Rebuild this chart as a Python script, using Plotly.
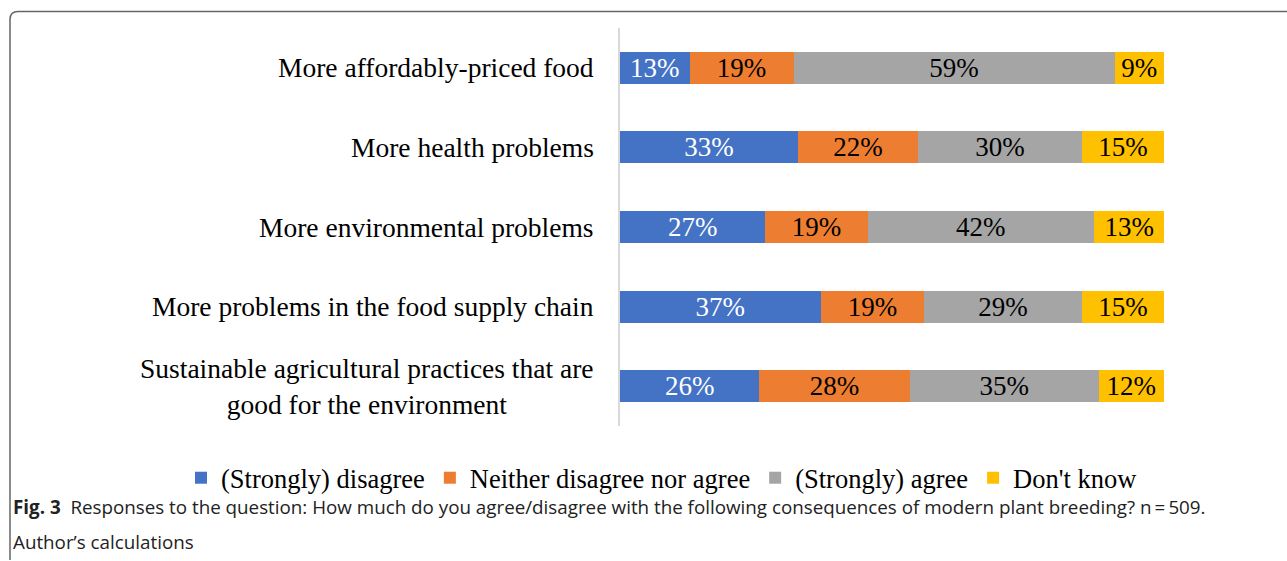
import plotly.graph_objects as go

categories = [
    "More affordably-priced food",
    "More health problems",
    "More environmental problems",
    "More problems in the food supply chain",
    "Sustainable agricultural practices that are<br>good for the environment",
]
series_names = ["(Strongly) disagree", "Neither disagree nor agree", "(Strongly) agree", "Don't know"]
disagree = [12.8, 32.7, 26.7, 36.9, 25.6]
neither = [19.1, 22.1, 18.8, 19.0, 27.7]
agree = [59.0, 30.1, 41.6, 29.0, 34.7]
dont_know = [9.1, 15.1, 13.0, 15.1, 12.0]
caption_bold = "Fig. 3"
caption_text = ("Responses to the question: How much do you agree/disagree with the following "
                "consequences of modern plant breeding? n\u2009=\u2009509.")
caption_line2 = "Author\u2019s calculations"

colors = ["#4472C4", "#ED7D31", "#A5A5A5", "#FFC000"]
text_colors = ["white", "black", "black", "black"]
SERIF = "Liberation Serif, Times New Roman, serif"
SANS = "Open Sans, Noto Sans, sans-serif"

W, H = 1287, 561
L, R, T, B = 620, 123, 28, 135
pw, ph = W - L - R, H - T - B


def px(x):
    return (x - L) / pw


def py(y):
    return (H - B - y) / ph


fig = go.Figure()
for name, vals, c, tc in zip(series_names, [disagree, neither, agree, dont_know], colors, text_colors):
    fig.add_trace(go.Bar(
        y=categories, x=vals, name=name, orientation="h",
        marker=dict(color=c, line=dict(width=0)),
        texttemplate="%{x:.0f}%", textposition="inside", insidetextanchor="middle",
        textangle=0, constraintext="none",
        textfont=dict(family=SERIF, size=27, color=tc),
        hoverinfo="skip",
    ))

# category labels (centered multi-line, right edge near axis)
for cat in categories:
    fig.add_annotation(
        x=px(596), xref="paper", y=cat, yref="y", text=cat, showarrow=False,
        xanchor="right", yanchor="middle", align="center",
        font=dict(family=SERIF, size=27.5, color="black"),
    )

# caption
fig.add_annotation(
    x=px(11), xref="paper", y=py(507), yref="paper", showarrow=False,
    xanchor="left", yanchor="middle", align="left",
    text=f"<b>{caption_bold}</b>  {caption_text}",
    font=dict(family=SANS, size=18.8, color="#222"),
)
fig.add_annotation(
    x=px(11), xref="paper", y=py(542), yref="paper", showarrow=False,
    xanchor="left", yanchor="middle", align="left",
    text=caption_line2,
    font=dict(family=SANS, size=18.8, color="#222"),
)

# frame
r = 8
frame_path = (f"M {px(10)},{py(560)} L {px(10)},{py(11.5 + r)} "
              f"Q {px(10)},{py(11.5)} {px(10 + r)},{py(11.5)} L {px(1287)},{py(11.5)}")
fig.add_shape(type="path", path=frame_path, xref="paper", yref="paper",
              line=dict(color="#666666", width=1.5))

fig.update_layout(
    width=W, height=H,
    margin=dict(l=L, r=R, t=T, b=B, pad=0),
    barmode="stack", bargap=0.6,
    plot_bgcolor="white", paper_bgcolor="white",
    showlegend=True,
    legend=dict(orientation="h", x=px(181), xanchor="left", y=py(478), yanchor="middle",
                font=dict(family=SERIF, size=26.5, color="black"), traceorder="normal",
                itemclick=False, itemdoubleclick=False, tracegroupgap=0),
    xaxis=dict(range=[0, 100], visible=False, fixedrange=True),
    yaxis=dict(autorange="reversed", showticklabels=False, ticks="", showgrid=False,
               showline=True, linecolor="#D9D9D9", linewidth=2, zeroline=False, fixedrange=True),
)

fig.write_html("out.html", config={"displayModeBar": False})
